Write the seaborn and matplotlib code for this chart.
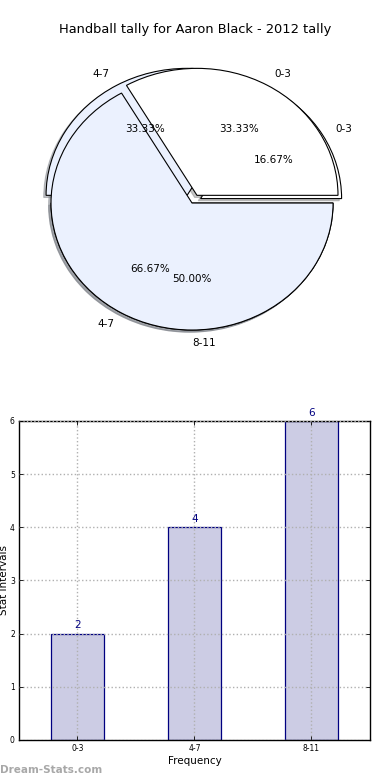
import matplotlib
matplotlib.use("Agg")
import matplotlib.pyplot as plt
import seaborn as sns

# ---- data ----
title = "Handball tally for Aaron Black - 2012 tally"
pie_a_labels = ["0-3", "4-7"]
pie_a_values = [2, 4]
pie_b_labels = ["0-3", "4-7", "8-11"]
pie_b_values = [2, 4, 6]
bar_categories = ["0-3", "4-7", "8-11"]
bar_values = [2, 4, 6]
y_ticks = [0, 1, 2, 3, 4, 5, 6]

sns.set_theme(style="white")
plt.rcParams["font.family"] = ["DejaVu Sans"]
plt.rcParams["text.color"] = "black"
plt.rcParams["axes.labelcolor"] = "black"

WHITE = "#ffffff"
BLUE = "#ebf1fe"
SHADOW = {"ox": -0.012, "oy": -0.012, "shade": 0.45}

fig = plt.figure(figsize=(3.9, 7.8), dpi=100)

# ---- pie panel ----
ax1 = fig.add_axes([0.0404, 0.5362, 0.904, 0.407])
w2, t2, p2 = ax1.pie(pie_b_values, labels=pie_b_labels, colors=[WHITE, BLUE, BLUE],
                     explode=[0.07, 0.07, 0.0], autopct="%.2f%%", shadow=SHADOW,
                     startangle=0, counterclock=True,
                     wedgeprops=dict(edgecolor="black", linewidth=0.8),
                     textprops=dict(fontsize=7.5, color="black"))
w1, t1, p1 = ax1.pie(pie_a_values, labels=pie_a_labels, colors=[WHITE, BLUE],
                     explode=[0.07, 0.0], autopct="%.2f%%", shadow=SHADOW,
                     startangle=0, counterclock=True,
                     wedgeprops=dict(edgecolor="black", linewidth=0.8),
                     textprops=dict(fontsize=7.5, color="black"))
t2[2].set_horizontalalignment("left")
ax1.set_aspect("auto")
ax1.set_xlim(-1.25, 1.25)
ax1.set_ylim(-1.25, 1.25)
fig.text(0.5, 0.962, title, ha="center", va="center", fontsize=9.4, color="black")

# ---- bar panel ----
ax2 = fig.add_axes([0.0487, 0.0513, 0.9, 0.409])
sns.barplot(x=bar_categories, y=bar_values, color="#ccccE4", edgecolor="#000080",
            linewidth=0.9, width=0.45, saturation=1, ax=ax2)
ax2.set_xlim(-0.5, 2.5)
ax2.set_ylim(0, 6)
ax2.set_yticks(y_ticks)
ax2.set_axisbelow(False)
ax2.grid(True, linestyle=":", color="#b0b0b0", linewidth=1.0)
for i, v in enumerate(bar_values):
    ax2.text(i, v + 0.06, str(v), ha="center", va="bottom", color="#000080", fontsize=7.5)
ax2.tick_params(axis="both", direction="in", length=3, width=0.6, labelsize=5.5,
                top=True, right=True, bottom=True, left=True, pad=3, colors="black")
for s in ax2.spines.values():
    s.set_color("black")
    s.set_linewidth(1.0)
ax2.set_xlabel("Frequency", fontsize=7.5, labelpad=2)
ax2.set_ylabel("Stat Intervals", fontsize=7.5, labelpad=1)

fig.text(0.0, 0.013, "Dream-Stats.com", ha="left", va="center", fontsize=7.5,
         color="#a8a8a8", fontweight="bold")

fig.savefig("out.png", dpi=100)
